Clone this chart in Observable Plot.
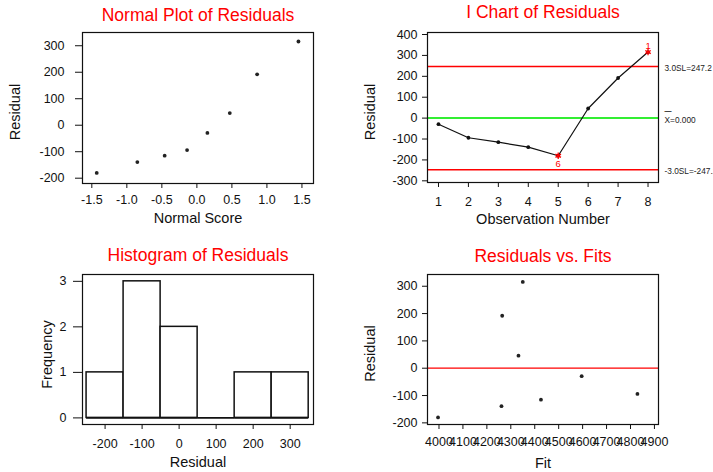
<!DOCTYPE html>
<html><head><meta charset="utf-8">
<script src="https://cdn.jsdelivr.net/npm/d3@7"></script>
<script src="https://cdn.jsdelivr.net/npm/@observablehq/plot@0.6"></script>
<style>
html,body{margin:0;padding:0;background:#fff;}
#chart{position:relative;width:713px;height:472px;overflow:hidden;font-family:"Liberation Sans",Arial,sans-serif;}
#chart svg{position:absolute;overflow:visible;background:transparent;}
</style></head><body><div id="chart"></div>
<script>
// ---- data ----
const observations = [1, 2, 3, 4, 5, 6, 7, 8];
const residuals = [-29, -94, -115, -139, -180, 46, 192, 316];
const fits = [4596, 4829, 4426, 4261, 3996, 4332, 4264, 4350];
const normalScores = [-1.43, -0.85, -0.46, -0.14, 0.15, 0.47, 0.86, 1.45];
const limitValues = [247.2, 0, -247.2];
const limitLabels = ["3.0SL=247.2", "X=0.000", "-3.0SL=-247.2"];
const flaggedObs = [5, 8];
const flaggedTests = ["6", "1"];
const histEdges = [-250, -150, -50, 50, 150, 250, 350];
const normalTicksX = [-1.5, -1, -0.5, 0, 0.5, 1, 1.5];
const residualTicks = [-200, -100, 0, 100, 200, 300];
const iChartTicksY = [-300, -200, -100, 0, 100, 200, 300, 400];
const freqTicks = [0, 1, 2, 3];
const fitTicks = [4000, 4100, 4200, 4300, 4400, 4500, 4600, 4700, 4800, 4900];
const titles = ["Normal Plot of Residuals", "I Chart of Residuals", "Histogram of Residuals", "Residuals vs. Fits"];

// ---- derived tables ----
const rows = observations.map((o, i) => ({obs: o, res: residuals[i], fit: fits[i]}));
const sortedRes = residuals.slice().sort((a, b) => a - b);
const normalRows = normalScores.map((z, i) => ({z, res: sortedRes[i]}));
const flagged = flaggedObs.map((o, i) => ({obs: o, res: residuals[o - 1], test: flaggedTests[i]}));
const bins = d3.bin().domain([histEdges[0], histEdges[histEdges.length - 1]]).thresholds(histEdges.slice(1, -1))(residuals);
const limits = limitValues.map((v, i) => ({v, label: limitLabels[i]}));

const FONT = '"Liberation Sans", Arial, sans-serif';
const style = {fontFamily: FONT, fontSize: "12.5px", color: "#111", background: "transparent"};
const fmt = d => String(d);
const chart = document.getElementById("chart");
function place(svg, left, top) { svg.style.left = left + "px"; svg.style.top = top + "px"; chart.appendChild(svg); }
const title = (t, dy) => Plot.text([t], {text: d => d, frameAnchor: "top", lineAnchor: "top", dy, fill: "#ff0000", fontSize: 17.5, fontFamily: FONT});
const xlab = (t, dy) => Plot.text([t], {text: d => d, frameAnchor: "bottom", lineAnchor: "top", dy, fill: "#111", fontSize: 14.5, fontFamily: FONT});
const ylab = (t, dx, dy) => Plot.text([t], {text: d => d, frameAnchor: "left", textAnchor: "middle", lineAnchor: "middle", rotate: -90, dx, dy, fill: "#111", fontSize: 14.5, fontFamily: FONT});
const frame = () => Plot.frame({stroke: "#111", strokeWidth: 1.2});
const dotR = 1.9;

// Panel 1: Normal plot
place(Plot.plot({
  width: 356, height: 235, marginLeft: 82, marginRight: 43, marginTop: 32, marginBottom: 52,
  style,
  x: {domain: [-1.633, 1.665], ticks: normalTicksX, tickFormat: d => d.toFixed(1), tickSize: 5, tickPadding: 6.6, label: null},
  y: {domain: [-220, 350], ticks: residualTicks, tickFormat: fmt, tickSize: 7, tickPadding: 11, label: null},
  marks: [
    frame(),
    Plot.dot(normalRows, {x: "z", y: "res", r: dotR, fill: "#222"}),
    title(titles[0], -24.4),
    xlab("Normal Score", 29),
    ylab("Residual", -66.7, 4)
  ]
}), 0, 0);

// Panel 2: I chart
place(Plot.plot({
  width: 357, height: 235, marginLeft: 71, marginRight: 55, marginTop: 32, marginBottom: 53,
  style,
  x: {domain: [0.633, 8.35], ticks: observations, tickFormat: fmt, tickSize: 5, tickPadding: 9.3, label: null},
  y: {domain: [-308, 409.6], ticks: iChartTicksY, tickFormat: fmt, tickSize: 5, tickPadding: 5, label: null},
  marks: [
    Plot.ruleY(limits.filter(d => d.v !== 0), {y: "v", stroke: "#ff0000", strokeWidth: 1.5}),
    Plot.ruleY(limits.filter(d => d.v === 0), {y: "v", stroke: "#33ee33", strokeWidth: 2}),
    Plot.line(rows, {x: "obs", y: "res", stroke: "#111", strokeWidth: 1.2}),
    Plot.dot(rows, {x: "obs", y: "res", r: dotR, fill: "#111"}),
    Plot.dot(flagged, {x: "obs", y: "res", symbol: "asterisk", r: 3, stroke: "#ff0000", strokeWidth: 1.3}),
    Plot.text(flagged.filter(d => d.res > 0), {x: "obs", y: "res", text: "test", dy: -6, fill: "#ff0000", fontSize: 9.5, fontFamily: FONT}),
    Plot.text(flagged.filter(d => d.res < 0), {x: "obs", y: "res", text: "test", dy: 8, fill: "#ff0000", fontSize: 9.5, fontFamily: FONT}),
    Plot.text(limits.filter(d => d.v !== 0), {y: "v", text: "label", frameAnchor: "right", textAnchor: "start", dx: 6, dy: 1.5, fontSize: 8.3, fill: "#222", fontFamily: FONT}),
    Plot.text(limits.filter(d => d.v === 0), {y: "v", text: "label", frameAnchor: "right", textAnchor: "start", dx: 6, dy: 2.5, fontSize: 8.3, fill: "#222", fontFamily: FONT}),
    Plot.text(limits.filter(d => d.v === 0), {y: "v", text: () => "\u2014", frameAnchor: "right", textAnchor: "start", dx: 6, dy: -7, fontSize: 7, fontWeight: "bold", fill: "#111", fontFamily: FONT}),
    frame(),
    title(titles[1], -27.3),
    xlab("Observation Number", 31.6),
    ylab("Residual", -56.7, 4.5)
  ]
}), 356, 0);

// Panel 3: Histogram
place(Plot.plot({
  width: 356, height: 237, marginLeft: 82, marginRight: 43, marginTop: 39, marginBottom: 48,
  style,
  x: {domain: [-261, 363], ticks: residualTicks, tickFormat: fmt, tickSize: 5, tickPadding: 9.7, label: null},
  y: {domain: [-0.145, 3.15], ticks: freqTicks, tickFormat: fmt, tickSize: 9, tickPadding: 7, label: null},
  marks: [
    Plot.rectY(bins, {x1: d => d.x0, x2: d => d.x1, y: d => d.length, fill: "white", stroke: "#111", strokeWidth: 1.5}),
    Plot.ruleY(bins, {y: 0, x1: d => d.x0, x2: d => d.x1, stroke: "#111", strokeWidth: 1.8}),
    frame(),
    title(titles[2], -25.7),
    xlab("Residual", 32.4),
    ylab("Frequency", -35, 5)
  ]
}), 0, 235);

// Panel 4: Residuals vs Fits
place(Plot.plot({
  width: 357, height: 237, marginLeft: 71, marginRight: 55, marginTop: 39, marginBottom: 48,
  style,
  x: {domain: [3952, 4917], ticks: fitTicks, tickFormat: fmt, tickSize: 5, tickPadding: 7.7, label: null},
  y: {domain: [-206, 343], ticks: residualTicks, tickFormat: fmt, tickSize: 5, tickPadding: 5, label: null},
  marks: [
    Plot.ruleY([0], {stroke: "#ff0000", strokeWidth: 1.3}),
    Plot.dot(rows, {x: "fit", y: "res", r: dotR, fill: "#222"}),
    frame(),
    title(titles[3], -25),
    xlab("Fit", 33.7),
    ylab("Residual", -56.7, 4)
  ]
}), 356, 235);
</script></body></html>
